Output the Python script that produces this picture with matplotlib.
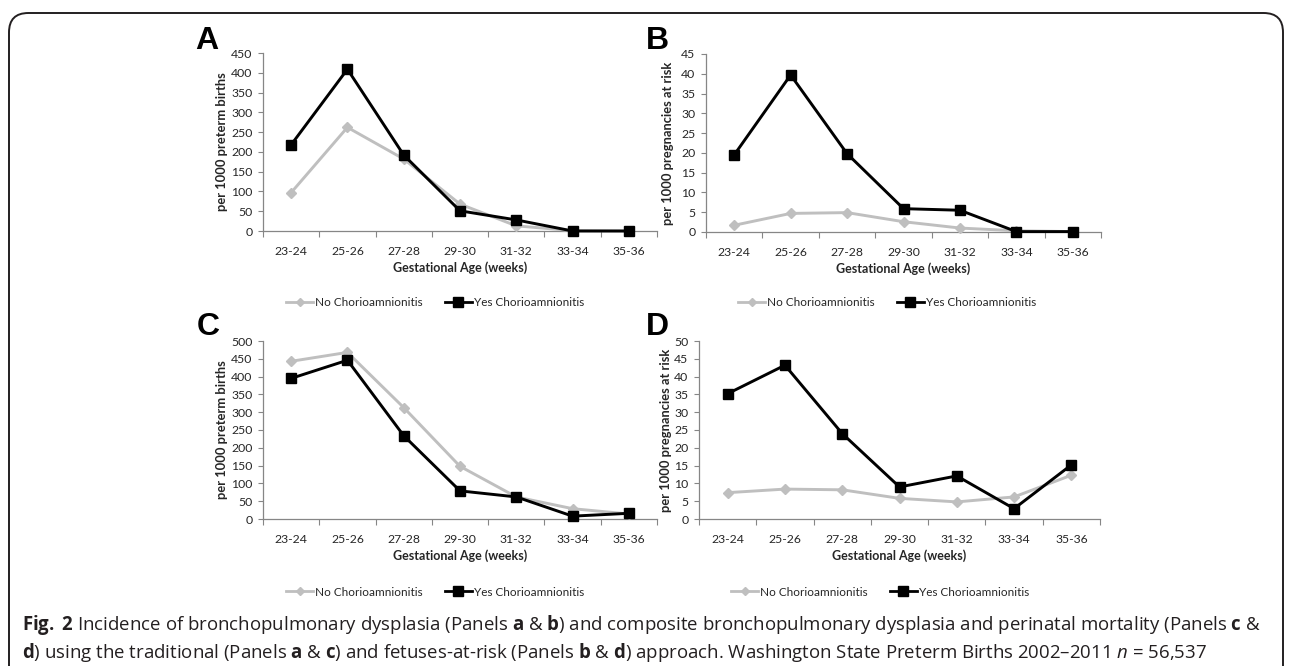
import matplotlib
matplotlib.use("Agg")
import matplotlib.pyplot as plt
from matplotlib.patches import FancyBboxPatch
from matplotlib.lines import Line2D

# data
age_groups = ["23-24", "25-26", "27-28", "29-30", "31-32", "33-34", "35-36"]

a_no = [97, 262, 182, 68, 13, 1, 0]
a_yes = [218, 409, 192, 51, 28, 0, 0]
b_no = [1.7, 4.7, 4.9, 2.6, 1.0, 0.3, 0.1]
b_yes = [19.5, 39.7, 19.8, 5.9, 5.5, 0.1, 0.1]
c_no = [443, 468, 313, 148, 62, 29, 14]
c_yes = [395, 446, 234, 79, 62, 8, 16]
d_no = [7.4, 8.4, 8.2, 5.8, 4.8, 6.2, 12.3]
d_yes = [35.2, 43.2, 24.0, 9.0, 12.1, 2.9, 15.2]

series_labels = ["No Chorioamnionitis", "Yes Chorioamnionitis"]
ylabel_births = "per 1000 preterm births"
ylabel_risk = "per 1000 pregnancies at risk"
xlabel = "Gestational Age (weeks)"

W, H = 1292, 666
GREY = "#BFBFBF"
AXIS = "#868686"
TXT = "#262626"

plt.rcParams["font.family"] = ["Lato", "DejaVu Sans"]
plt.rcParams["mathtext.fontset"] = "custom"
plt.rcParams["mathtext.rm"] = "Open Sans"
plt.rcParams["mathtext.bf"] = "Open Sans:bold"
plt.rcParams["mathtext.it"] = "Open Sans:italic"

fig = plt.figure(figsize=(W / 100, H / 100), dpi=100)


def px_rect(left, top, right, bottom):
    return [left / W, 1 - bottom / H, (right - left) / W, (bottom - top) / H]


# letter, (left, top, right, bottom), no, yes, ymax, step, ylabel, ylabel x, letter pos, legend centre
panels = [
    ("A", (263, 53, 657, 231), a_no, a_yes, 450, 50, ylabel_births, 222, (207, 41), (435, 303)),
    ("B", (706, 54, 1101, 232), b_no, b_yes, 45, 5, ylabel_risk, 668, (657, 41), (887, 303)),
    ("C", (263, 341, 657, 519), c_no, c_yes, 500, 50, ylabel_births, 222, (208, 327), (435, 592)),
    ("D", (699, 341, 1100, 519), d_no, d_yes, 50, 5, ylabel_risk, 666, (657, 327), (880, 592)),
]

x = [i + 0.5 for i in range(len(age_groups))]

for letter, box, no, yes, ymax, step, ylab, ylab_x, let_pos, leg_pos in panels:
    ax = fig.add_axes(px_rect(*box))
    ax.plot(x, no, color=GREY, lw=2.1, marker="D", ms=5, clip_on=False, zorder=3)
    ax.plot(x, yes, color="black", lw=2.1, marker="s", ms=7.5, clip_on=False, zorder=4)

    ax.set_xlim(0, len(age_groups))
    ax.set_ylim(0, ymax)
    ax.set_yticks(range(0, ymax + 1, step))
    ax.set_xticks(x)
    ax.set_xticklabels(age_groups)
    ax.set_xticks(range(len(age_groups) + 1), minor=True)

    for s in ["top", "right"]:
        ax.spines[s].set_visible(False)
    for s in ["left", "bottom"]:
        ax.spines[s].set_color(AXIS)
        ax.spines[s].set_linewidth(0.9)

    ax.tick_params(axis="y", direction="out", length=3.5, width=0.8, color=AXIS,
                   labelsize=8.8, labelcolor=TXT, pad=4)
    ax.tick_params(axis="x", which="major", length=0, labelsize=8.8, labelcolor=TXT, pad=11)
    ax.tick_params(axis="x", which="minor", direction="out", length=4, width=0.8, color=AXIS)

    ax.set_xlabel(xlabel, fontsize=9, fontweight="bold", color=TXT, va="center")
    ax.xaxis.set_label_coords(0.5, -(268 - 231) / 178)
    ax.set_ylabel(ylab, fontsize=9.3, fontweight="bold", color=TXT, va="center")
    left, top, right, bottom = box
    ax.yaxis.set_label_coords((ylab_x - left) / (right - left), 0.5)

    fig.text(let_pos[0] / W, 1 - let_pos[1] / H, letter, fontsize=23, fontweight="bold",
             family="Liberation Sans", ha="center", va="center")

    h_no = Line2D([], [], color=GREY, lw=2.0, marker="D", ms=4.5)
    h_yes = Line2D([], [], color="black", lw=2.0, marker="s", ms=6.5)
    fig.legend([h_no, h_yes], series_labels, loc="center",
               bbox_to_anchor=(leg_pos[0] / W, 1 - leg_pos[1] / H), ncol=2, frameon=False,
               fontsize=8.5, handlelength=2.3, handletextpad=0.15, columnspacing=1.9,
               labelcolor=TXT)

# rounded border around the figure
border = FancyBboxPatch((9 / W, -0.2), (1283 - 9) / W, 1.2 - 13 / H,
                        boxstyle="round,pad=0,rounding_size=0.015",
                        transform=fig.transFigure, fill=False, ec="#231F20", lw=1.4,
                        mutation_aspect=W / H)
fig.patches.append(border)

# caption
line1 = (r"$\mathbf{Fig.}$ $\mathbf{2}$ Incidence of bronchopulmonary dysplasia (Panels $\mathbf{a}$ & "
         r"$\mathbf{b}$) and composite bronchopulmonary dysplasia and perinatal mortality "
         r"(Panels $\mathbf{c}$ &")
line2 = (r"$\mathbf{d}$) using the traditional (Panels $\mathbf{a}$ & $\mathbf{c}$) and "
         r"fetuses-at-risk (Panels $\mathbf{b}$ & $\mathbf{d}$) approach. Washington State "
         r"Preterm Births 2002–2011 $\mathit{n}$ = 56,537")

cap_size = 13
t1 = fig.text(22 / W, 1 - 625 / H, line1, fontsize=cap_size, family="Open Sans",
              color="#231F20", ha="left", va="center")
t2 = fig.text(22 / W, 1 - 652 / H, line2, fontsize=cap_size, family="Open Sans",
              color="#231F20", ha="left", va="center")

# fit the caption to the width of the original line
renderer = fig.canvas.get_renderer()
width = t1.get_window_extent(renderer).width
scale = (1255 - 22) / width
t1.set_fontsize(cap_size * scale)
t2.set_fontsize(cap_size * scale)

fig.savefig("out.png", dpi=100)
